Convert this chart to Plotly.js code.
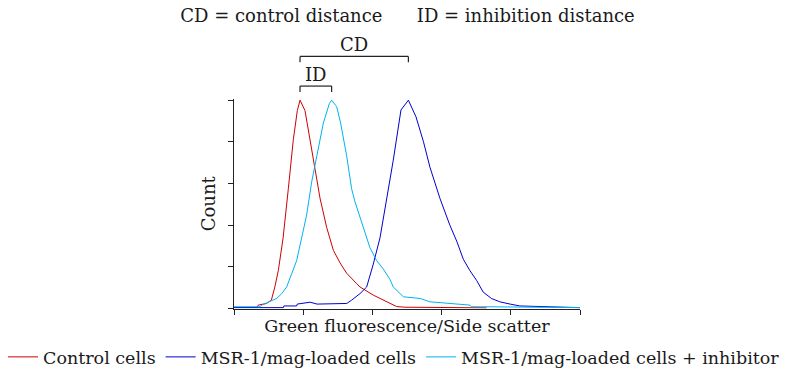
<!DOCTYPE html>
<html>
<head>
<meta charset="utf-8">
<script src="https://cdn.plot.ly/plotly-3.0.1.min.js"></script>
<style>html,body{margin:0;padding:0;background:#fff}#chart{width:806px;height:375px}</style>
</head>
<body>
<div id="chart"></div>
<script>
// Fluorescence axis positions (arbitrary units) and normalised counts (% of peak)
var controlX = [0, 0.33, 0.35, 0.47, 0.54, 0.59, 0.64, 0.71, 0.785, 0.857, 0.915, 0.954, 1.026, 1.098, 1.171, 1.243, 1.339, 1.436, 1.532, 1.628, 1.773, 1.821, 2.013, 2.207, 2.35, 2.47, 3.65];
var controlY = [0.6, 0.6, 1.7, 2.5, 4.1, 10.4, 18.2, 34, 57.5, 81, 95, 100, 95, 81, 65, 53, 39, 28, 22, 17, 12, 10.4, 6.5, 3.3, 1, 0.7, 0.4];

var loadedX = [0, 0.713, 0.72, 0.906, 0.913, 1.1, 1.2, 1.63, 1.70, 1.82, 1.917, 2.013, 2.11, 2.207, 2.30, 2.413, 2.52, 2.63, 2.736, 2.832, 2.977, 3.12, 3.218, 3.314, 3.41, 3.507, 3.60, 3.72, 3.84, 3.99, 4.13, 5.0];
var loadedY = [0.5, 0.5, 1.3, 1.3, 2.2, 3.1, 2.2, 2.5, 4.1, 7.2, 10.4, 21.4, 34, 52, 70.9, 95.3, 100, 92, 80.3, 67.8, 52.8, 40, 32.4, 23.7, 18.2, 13.5, 8, 4.9, 3.3, 2.2, 1.3, 0.5];

var inhibX = [0, 0.376, 0.4, 0.52, 0.617, 0.689, 0.761, 0.833, 0.905, 0.978, 1.05, 1.122, 1.194, 1.291, 1.378, 1.411, 1.484, 1.541, 1.628, 1.7, 1.748, 1.869, 1.965, 2.062, 2.158, 2.254, 2.302, 2.447, 2.69, 2.83, 3.12, 3.41, 3.43, 3.7, 5.0];
var inhibY = [0.9, 0.9, 1.7, 3.3, 4.9, 7.2, 10.4, 16.7, 23, 34, 45, 60.7, 73.3, 89, 98.4, 100, 96.9, 89, 73.3, 57.5, 51.3, 38.7, 29.2, 23, 19, 14, 10.4, 5.7, 4.9, 3.3, 2.5, 1.7, 0.9, 0.9, 0.5];

var seriesNames = ['Control cells', 'MSR-1/mag-loaded cells', 'MSR-1/mag-loaded cells + inhibitor'];
var seriesColors = ['#cc0000', '#0000cc', '#00b0f0'];
var titleText = 'CD = control distance\u00a0\u00a0\u00a0\u00a0\u00a0\u00a0ID = inhibition distance';
var xTitle = 'Green fluorescence/Side scatter';
var yTitle = 'Count';

function peakX(xs, ys) {
  var m = 0;
  for (var i = 1; i < ys.length; i++) if (ys[i] > ys[m]) m = i;
  return xs[m];
}
var pControl = peakX(controlX, controlY);
var pLoaded = peakX(loadedX, loadedY);
var pInhib = peakX(inhibX, inhibY);

var FONT = 'DejaVu Serif';
var FS = 18;
var TXT = '#1a1a1a';

var traces = [
  {x: controlX, y: controlY, name: seriesNames[0]},
  {x: loadedX, y: loadedY, name: seriesNames[1]},
  {x: inhibX, y: inhibY, name: seriesNames[2]}
].map(function (t, i) {
  t.type = 'scatter'; t.mode = 'lines';
  t.line = {color: seriesColors[i], width: 1};
  return t;
});

function bracket(x0, x1, yTop, yBot) {
  var s = {type: 'line', xref: 'x', yref: 'paper', line: {color: '#222', width: 1.2}};
  return [
    Object.assign({}, s, {x0: x0, x1: x1, y0: yTop, y1: yTop}),
    Object.assign({}, s, {x0: x0, x1: x0, y0: yTop, y1: yBot}),
    Object.assign({}, s, {x0: x1, x1: x1, y0: yTop, y1: yBot})
  ];
}

// plot box: x 234..580 px, y 100..312 px
var W = 806, H = 375;
var layout = {
  width: W, height: H,
  margin: {l: 0, r: 0, t: 0, b: 0},
  paper_bgcolor: '#fff', plot_bgcolor: '#fff',
  font: {family: FONT, size: FS, color: TXT},
  title: {text: titleText, x: 407.5 / W, xref: 'paper', xanchor: 'center', y: 1 - 16 / H, yref: 'container', yanchor: 'middle', font: {family: FONT, size: FS, color: TXT}},
  showlegend: true,
  legend: {orientation: 'h', x: 3 / W, xanchor: 'left', y: 1 - 361 / H, yanchor: 'middle', font: {family: FONT, size: 17.5, color: TXT}, bgcolor: 'rgba(0,0,0,0)', tracegroupgap: 0},
  xaxis: {
    domain: [234 / W, 580 / W],
    range: [0, 5], dtick: 1, tick0: 0, ticks: 'outside', ticklen: 5, tickcolor: '#222', tickwidth: 1,
    showticklabels: false, showgrid: false, zeroline: false,
    showline: true, linecolor: '#222', linewidth: 1.2,
    title: {text: xTitle, standoff: 5, font: {family: FONT, size: 17.5, color: TXT}}
  },
  yaxis: {
    domain: [1 - 312 / H, 1 - 100 / H],
    range: [0, 100.6], dtick: 20, tick0: 0, ticks: 'outside', ticklen: 5, tickcolor: '#222', tickwidth: 1,
    showticklabels: false, showgrid: false, zeroline: false,
    showline: true, linecolor: '#222', linewidth: 1.2,
    title: {text: yTitle, standoff: 7, font: {family: FONT, size: FS, color: TXT}}
  },
  shapes: [].concat(bracket(pControl, pLoaded, 1 - 57 / H, 1 - 63 / H), bracket(pControl, pInhib, 1 - 87 / H, 1 - 93 / H)),
  annotations: [
    {text: 'CD', x: (pControl + pLoaded) / 2, xref: 'x', y: 1 - 45 / H, yref: 'paper', showarrow: false, xanchor: 'center', yanchor: 'middle', font: {family: FONT, size: FS, color: TXT}},
    {text: 'ID', x: (pControl + pInhib) / 2, xref: 'x', y: 1 - 75 / H, yref: 'paper', showarrow: false, xanchor: 'center', yanchor: 'middle', font: {family: FONT, size: FS, color: TXT}}
  ]
};

Plotly.newPlot('chart', traces, layout, {displayModeBar: false, staticPlot: true});
</script>
</body>
</html>
